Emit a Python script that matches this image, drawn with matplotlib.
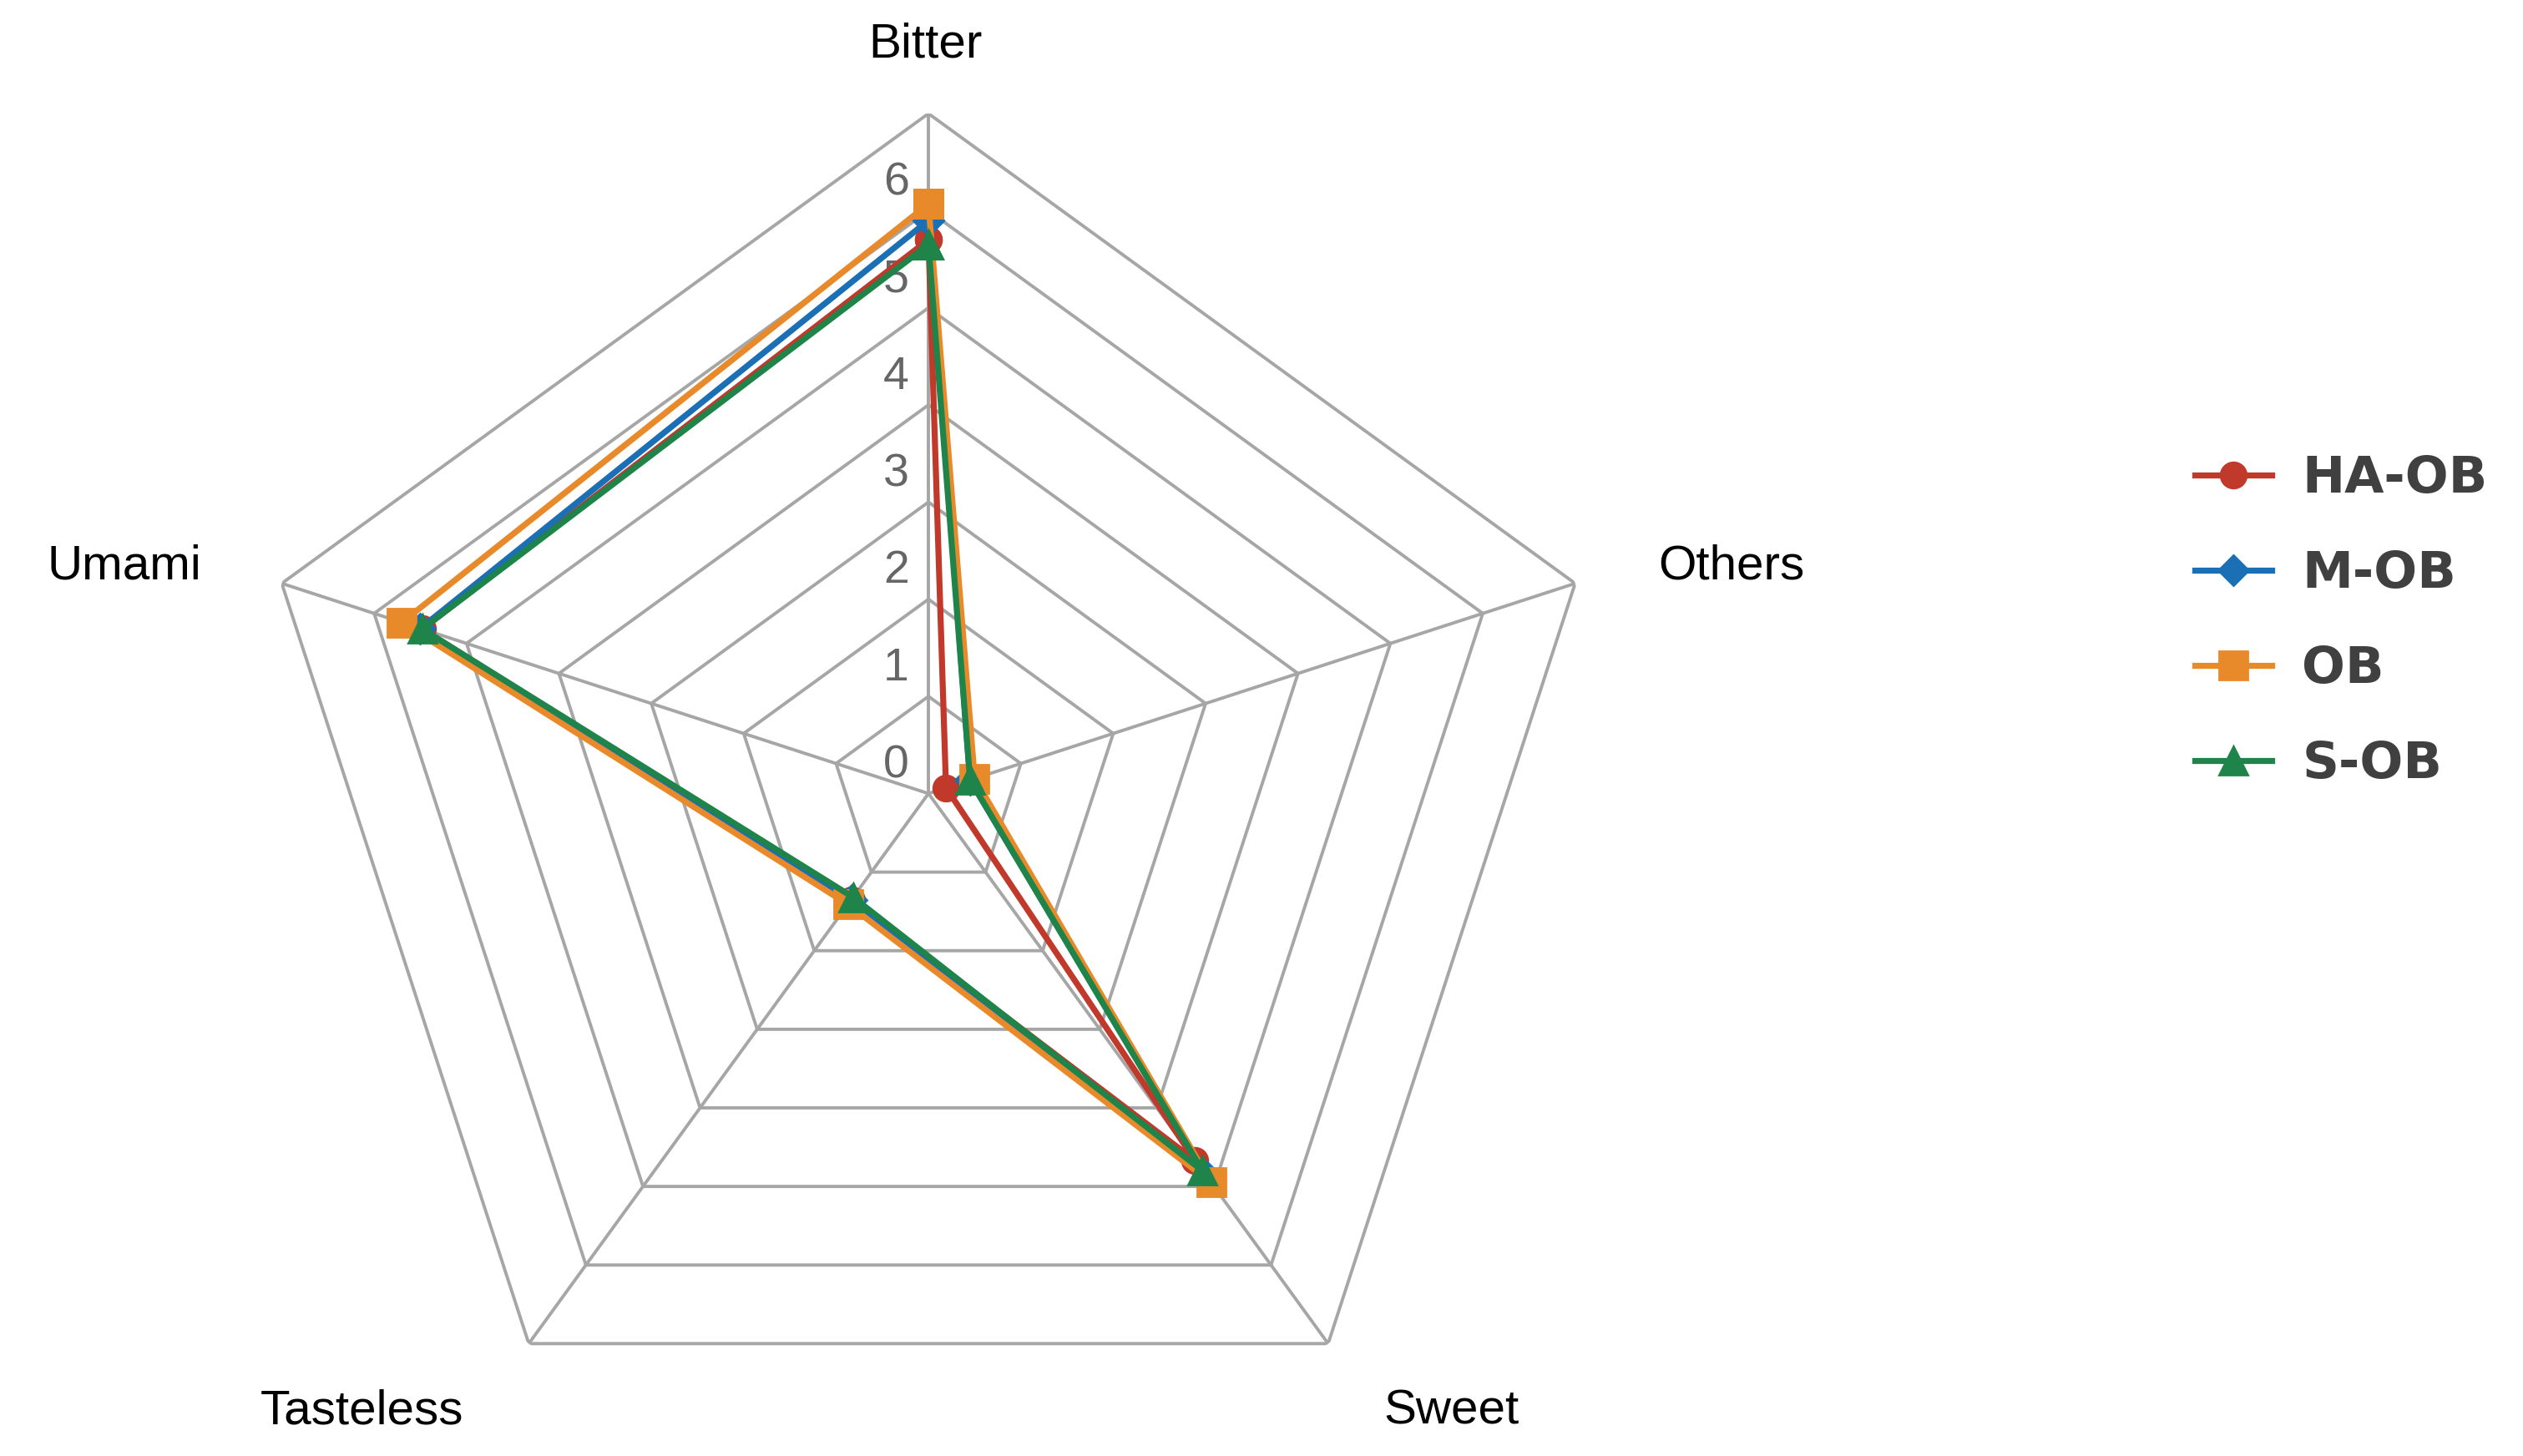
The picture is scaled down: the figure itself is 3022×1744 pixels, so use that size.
import numpy as np
import matplotlib
matplotlib.use("Agg")
import matplotlib.pyplot as plt
from matplotlib.lines import Line2D

categories = ["Bitter", "Others", "Sweet", "Tasteless", "Umami"]
series_names = ["HA-OB", "M-OB", "OB", "S-OB"]
ha_ob = [5.7, 0.19, 4.67, 1.35, 5.48]
m_ob = [5.9, 0.45, 4.88, 1.35, 5.5]
ob = [6.07, 0.5, 4.95, 1.41, 5.7]
s_ob = [5.65, 0.45, 4.8, 1.32, 5.48]
ticks = [0, 1, 2, 3, 4, 5, 6]
rmax = 7

colors = ["#c0392b", "#1a6fb5", "#e8892a", "#1e8449"]
markers = ["o", "D", "s", "^"]
msizes = [11, 9, 12, 12]

fig = plt.figure(figsize=(15.11, 8.72), dpi=200)
ax = fig.add_axes([0.368 - 0.27, 0.455 - 0.467, 0.54, 0.934], projection="polar")
ax.set_theta_offset(np.pi / 2)
ax.set_theta_direction(-1)
ax.set_ylim(0, rmax)
ax.grid(False)
ax.spines["polar"].set_visible(False)
ax.set_xticks([]); ax.set_yticks([])
ax.patch.set_alpha(0)

n = len(categories)
angles = np.linspace(0, 2 * np.pi, n, endpoint=False)
ang_c = np.append(angles, angles[0])
gc = "#a6a6a6"
for r in range(1, rmax + 1):
    ax.plot(ang_c, [r] * (n + 1), color=gc, lw=1.4, zorder=1)
for a in angles:
    ax.plot([a, a], [0, rmax], color=gc, lw=1.4, zorder=1)

for t in ticks:
    ax.annotate(str(t), (0, t), xytext=(-14, 12), textcoords="offset points",
                ha="center", va="center", fontsize=20, color="#666666", family="Liberation Sans", zorder=2)

# category label positions (fraction of figure, from reference layout)
label_pos = {"Bitter": (575, 28), "Others": (1076, 352), "Sweet": (902, 877),
             "Tasteless": (225, 877), "Umami": (77, 352)}
for c in categories:
    px, py = label_pos[c]
    fig.text(px / 1568, 1 - py / 905, c, ha="center", va="center", fontsize=21,
             color="black", family="Liberation Sans")

data = [ha_ob, m_ob, ob, s_ob]
for vals, col, mk, ms in zip(data, colors, markers, msizes):
    v = np.append(vals, vals[0])
    ax.plot(ang_c, v, color=col, lw=2.6, marker=mk, markersize=ms, zorder=3, clip_on=False)

handles = [Line2D([], [], color=c, lw=2.6, marker=m, markersize=s) for c, m, s in zip(colors, markers, msizes)]
leg = fig.legend(handles, series_names, loc="center", bbox_to_anchor=(0.928, 0.573), frameon=False,
                 prop={"size": 22, "weight": "bold"}, handlelength=1.5, labelspacing=0.9,
                 handletextpad=0.6)
for t in leg.get_texts():
    t.set_color("#404040")

fig.savefig("out.png", dpi=200)
